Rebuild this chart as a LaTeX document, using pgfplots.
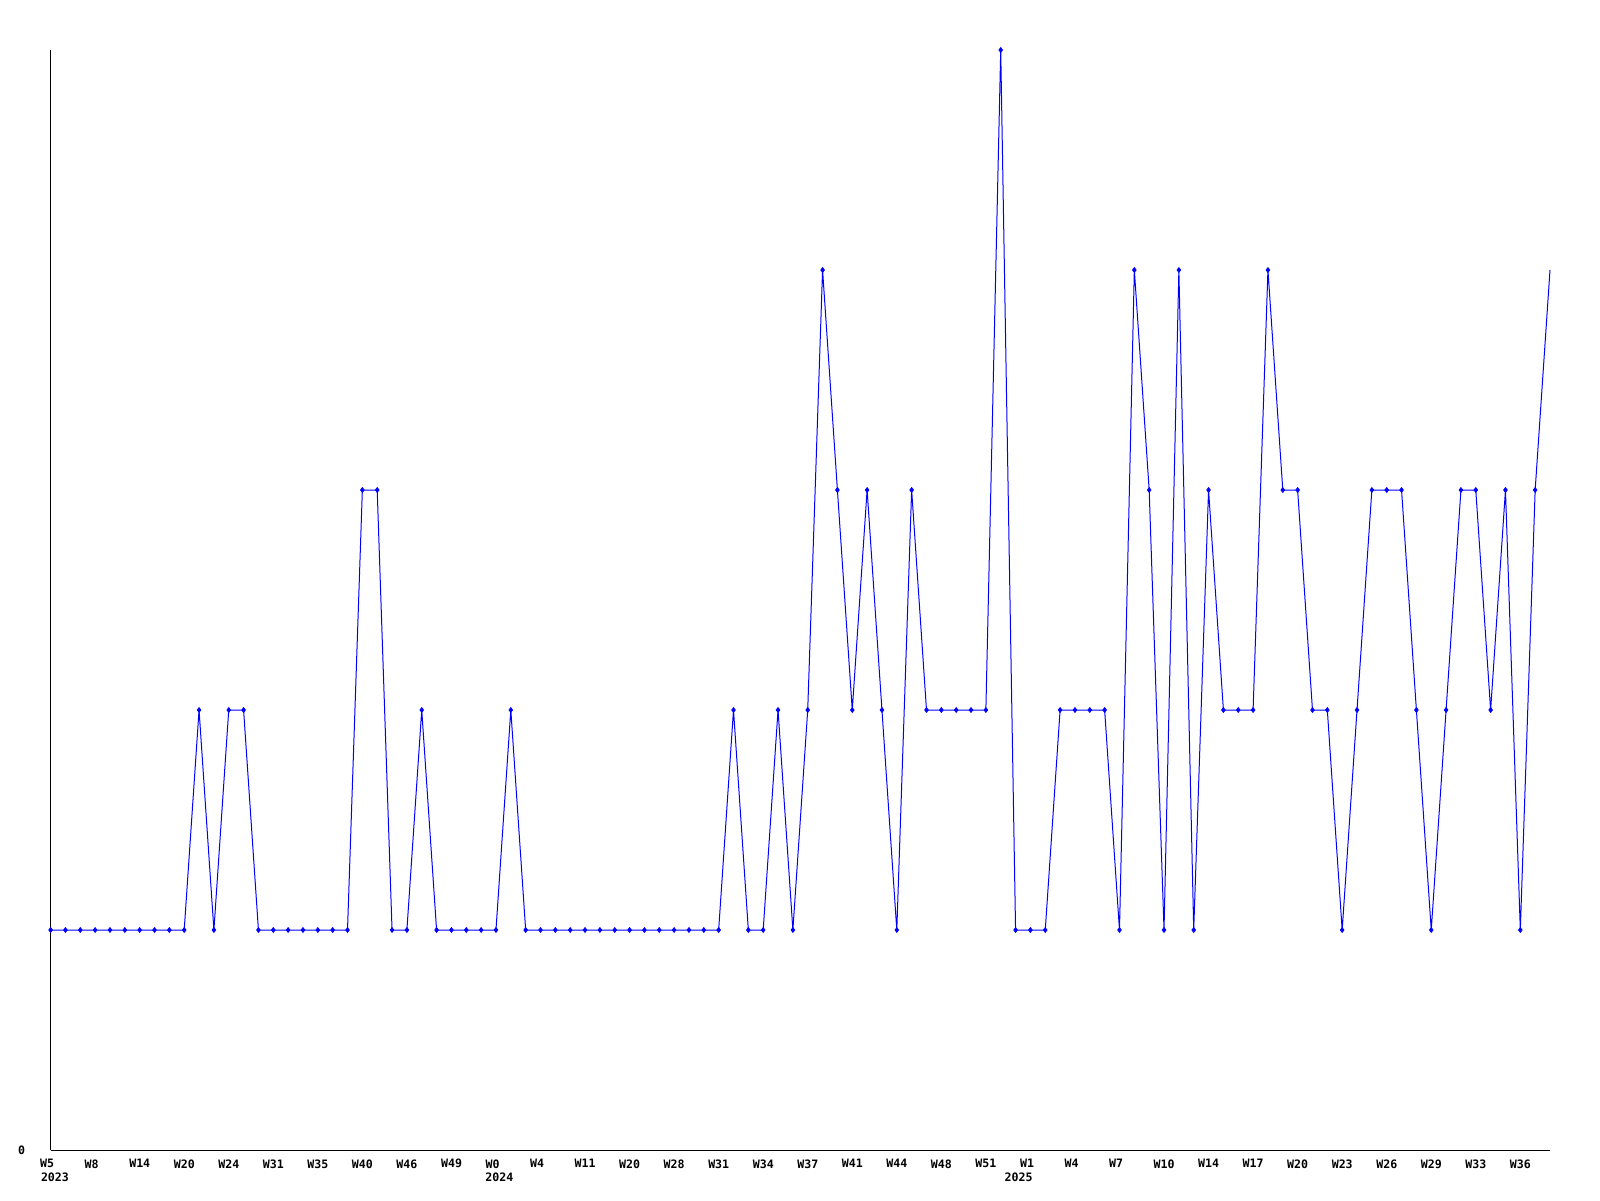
\documentclass[border=0pt]{standalone}
\usepackage{fontspec}
\setmainfont{DejaVu Sans Mono}
\usepackage{pgfplots}
\pgfplotsset{compat=1.18}
\usepackage{pgfplotstable}
\pgfplotstableread{
x y
0 1
1 1
2 1
3 1
4 1
5 1
6 1
7 1
8 1
9 1
10 2
11 1
12 2
13 2
14 1
15 1
16 1
17 1
18 1
19 1
20 1
21 3
22 3
23 1
24 1
25 2
26 1
27 1
28 1
29 1
30 1
31 2
32 1
33 1
34 1
35 1
36 1
37 1
38 1
39 1
40 1
41 1
42 1
43 1
44 1
45 1
46 2
47 1
48 1
49 2
50 1
51 2
52 4
53 3
54 2
55 3
56 2
57 1
58 3
59 2
60 2
61 2
62 2
63 2
64 5
65 1
66 1
67 1
68 2
69 2
70 2
71 2
72 1
73 4
74 3
75 1
76 4
77 1
78 3
79 2
80 2
81 2
82 4
83 3
84 3
85 2
86 2
87 1
88 2
89 3
90 3
91 3
92 2
93 1
94 2
95 3
96 3
97 2
98 3
99 1
100 3
101 4
}\datatable
\begin{document}
\begin{tikzpicture}[x=1pt,y=1pt]
\path[use as bounding box, fill=white] (0,0) rectangle (800,600);
\begin{axis}[
  at={(25.3pt,25pt)}, anchor=south west,
  scale only axis, width=749.7pt, height=550pt,
  xmin=0, xmax=101, ymin=0, ymax=5,
  axis lines*=left,
  axis line style={black, line width=0.5pt, -},
  xtick={0,3,...,99},
  xticklabels={W5,W8,W14,W20,W24,W31,W35,W40,W46,W49,W0,W4,W11,W20,W28,W31,W34,W37,W41,W44,W48,W51,W1,W4,W7,W10,W14,W17,W20,W23,W26,W29,W33,W36},
  ytick={0}, yticklabels={0},
  major tick length=0pt,
  tick label style={font=\fontsize{5.8}{7.5}\selectfont\bfseries, inner sep=0pt},
  xticklabel style={anchor=north west, xshift=-5.4pt, yshift=-4.5pt},
  yticklabel style={anchor=east, xshift=-12.5pt},
  clip=false,
]
\addplot[blue, line width=0.5pt, no marks] table[x=x,y=y] {\datatable};
\addplot[blue, only marks, mark=diamond*, mark size=1.2pt, restrict x to domain=0:100] table[x=x,y=y] {\datatable};
\node[anchor=north west, inner sep=0pt, font=\fontsize{5.8}{7.5}\selectfont\bfseries, yshift=-11.35pt] at (axis cs:-0.673,0) {2023};
\node[anchor=north west, inner sep=0pt, font=\fontsize{5.8}{7.5}\selectfont\bfseries, yshift=-11.35pt] at (axis cs:29.26,0) {2024};
\node[anchor=north west, inner sep=0pt, font=\fontsize{5.8}{7.5}\selectfont\bfseries, yshift=-11.35pt] at (axis cs:64.24,0) {2025};
\end{axis}
\end{tikzpicture}
\end{document}
